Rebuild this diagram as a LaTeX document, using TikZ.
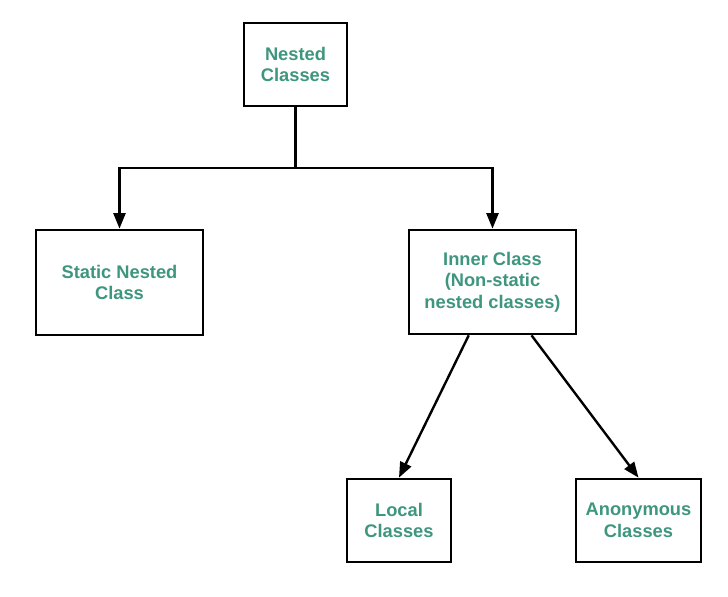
\documentclass[tikz,border=0pt]{standalone}
\usepackage{fontspec}
\setmainfont{Liberation Sans}
\usepackage{tikz}
\usetikzlibrary{shapes,positioning,calc,arrows.meta}
\definecolor{classgreen}{RGB}{62,150,126}

\tikzset{
  classbox/.style={draw=black,line width=1.9pt,fill=white,align=center,inner sep=0pt,
    text=classgreen,font=\bfseries\fontsize{13}{15.4}\selectfont},
  link/.style={line width=1.7pt,->}
}

\begin{document}
\begin{tikzpicture}[line cap=butt,line join=miter,>={Triangle[length=11pt,width=8.5pt]},x=1.0cm,y=1.0cm]
\useasboundingbox (0,0) rectangle (18.2,14.925);
% boxes
\node[classbox,minimum width=2.575cm,minimum height=2.075cm] (nested) at (7.3875,13.3125) {Nested\\Classes};
\node[classbox,minimum width=4.175cm,minimum height=2.625cm] (static) at (2.9875,7.8625) {Static Nested\\Class};
\node[classbox,minimum width=4.175cm,minimum height=2.6cm] (inner) at (12.3125,7.875) {Inner Class\\(Non-static\\nested classes)};
\node[classbox,minimum width=2.6cm,minimum height=2.075cm] (local) at (9.975,1.9125) {Local\\Classes};
\node[classbox,minimum width=3.125cm,minimum height=2.075cm] (anon) at (15.9625,1.9125) {Anonymous\\Classes};
% fork below the top box
\coordinate (fork) at (nested.south |- 0,10.725);
\draw[line width=1.7pt] (nested.south) -- (fork);
\draw[link] (fork) -| (static.north);
\draw[link] (fork) -| (inner.north);
% inner class branches
\coordinate (innerleft) at ($(inner.south west)!0.36!(inner.south east)$);
\coordinate (innerright) at ($(inner.south west)!0.73!(inner.south east)$);
\draw[link] (innerleft) -- (local.north);
\draw[link] (innerright) -- (anon.north);
\end{tikzpicture}
\end{document}
